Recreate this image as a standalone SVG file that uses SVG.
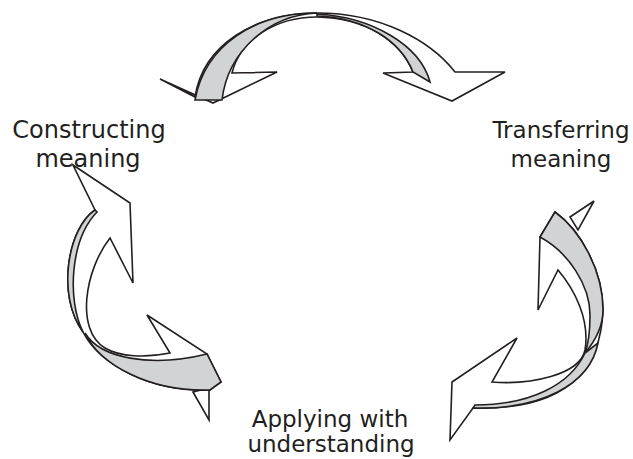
<svg xmlns="http://www.w3.org/2000/svg" width="633" height="459" viewBox="0 0 633 459">
<style>
.w{fill:#ffffff;stroke:#231f20;stroke-width:1.6;stroke-linejoin:miter}
.g{fill:#d1d3d4;stroke:#231f20;stroke-width:1.6;stroke-linejoin:miter}
.t{font-family:"DejaVu Sans","Verdana",sans-serif;font-size:24px;fill:#231f20;text-anchor:middle}
.s{font-size:23px}
</style>
<rect width="633" height="459" fill="#ffffff"/>
<g id="connectors">
  <g id="arrow-top">
    <path class="w" d="M160,79 L195,97 C203,45 255,13 317,13 C380,13 430,40 455,72 L505,72 L452,101 L383,73 L413,72 C400,40 365,18 317,17 C275,17 240,40 232,73 L277,72 L213,103 Z"/>
    <path class="g" d="M195,100 C205,45 255,13 317,13 C270,15 228,50 222,100 Z"/>
    <path class="g" d="M317,14 C372,17 420,45 430,82 L413,72 C400,40 365,18 317,16 Z"/>
  </g>
  <g id="arrow-left">
    <path class="w" d="M193,392 L209,420 L209,388 Z"/>
    <path class="w" d="M73,165 L130,203 L133,283 L110,238 C85,270 75,330 105,348 C120,357 145,358 170,353 L147,315 L207,354 L221,382 L210,390 C150,392 100,365 83,332 C56,295 68,228 95,210 Z"/>
    <path class="g" d="M95,210 C68,228 56,295 83,332 C67,300 70,240 97,212 Z"/>
    <path class="g" d="M85,333 C100,358 150,368 207,354 L221,382 L210,390 C150,392 100,365 85,333 Z"/>
  </g>
  <g id="arrow-right">
    <path class="w" d="M570,217 L594,201 L578,230 Z"/>
    <path class="w" d="M555,212 L540,237 L538,310 L558,270 C575,290 590,320 585,350 C580,375 530,385 492,382 L517,338 L452,382 L450,440 L473,408 C540,410 600,390 603,310 C603,270 580,230 555,212 Z"/>
    <path class="g" d="M555,212 L540,237 C568,252 590,285 590,315 C590,335 588,345 585,353 C596,340 603,325 603,310 C603,270 580,230 555,212 Z"/>
    <path class="g" d="M585,353 C570,385 530,405 475,405 L473,408 C540,410 590,385 598,343 Z"/>
  </g>
</g>
<g id="node-constructing">
  <text class="t" x="89" y="138">Constructing</text>
  <text class="t" x="88" y="167">meaning</text>
</g>
<g id="node-transferring">
  <text class="t s" x="561" y="138">Transferring</text>
  <text class="t s" x="561" y="167">meaning</text>
</g>
<g id="node-applying">
  <text class="t s" x="330" y="427">Applying with</text>
  <text class="t s" x="331" y="452">understanding</text>
</g>
</svg>
